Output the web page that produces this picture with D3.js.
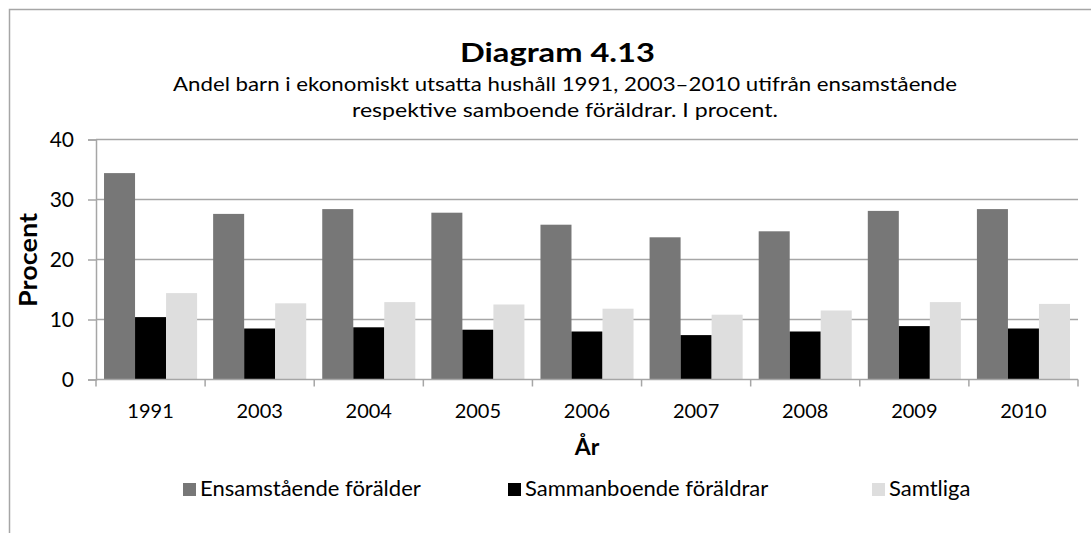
<!DOCTYPE html>
<html>
<head>
<meta charset="utf-8">
<script src="https://cdn.jsdelivr.net/npm/d3@7/dist/d3.min.js"></script>
<style>
  html, body { margin: 0; padding: 0; background: #fff; }
  svg { display: block; }
  text { font-family: Lato, "Open Sans", sans-serif; fill: #000; }
</style>
</head>
<body>
<svg id="chart" width="1091" height="533"></svg>
<script>
const years = ["1991", "2003", "2004", "2005", "2006", "2007", "2008", "2009", "2010"];
const seriesNames = ["Ensamstående förälder", "Sammanboende föräldrar", "Samtliga"];
const ensamstaende = [34.4, 27.6, 28.4, 27.8, 25.8, 23.7, 24.7, 28.1, 28.4];
const sammanboende = [10.4, 8.5, 8.7, 8.3, 8.0, 7.4, 8.0, 8.9, 8.5];
const samtliga = [14.4, 12.7, 12.9, 12.5, 11.8, 10.8, 11.5, 12.9, 12.6];
const yTicks = [0, 10, 20, 30, 40];
const colors = ["#777777", "#000000", "#dedede"];
const titleText = "Diagram 4.13";
const subtitleLines = [
  "Andel barn i ekonomiskt utsatta hushåll 1991, 2003–2010 utifrån ensamstående",
  "respektive samboende föräldrar. I procent."
];
const yLabel = "Procent";
const xLabel = "År";

const seriesData = [ensamstaende, sammanboende, samtliga];

const svg = d3.select("#chart");
const W = 1091, H = 533;
const plot = { left: 96, right: 1078, top: 139.5, bottom: 379.5 };

// outer frame
svg.append("rect")
  .attr("x", 9.5).attr("y", 9.5)
  .attr("width", W + 20).attr("height", H + 20)
  .attr("fill", "none").attr("stroke", "#a6a6a6").attr("stroke-width", 1.5);

const x = d3.scaleBand().domain(years).range([plot.left, plot.right]).paddingInner(0.147).paddingOuter(0.0735);
const xCat = d3.scaleBand().domain(years).range([plot.left, plot.right]);
const xs = d3.scaleBand().domain(d3.range(seriesNames.length)).range([0, x.bandwidth()]);
const y = d3.scaleLinear().domain([0, 40]).range([plot.bottom, plot.top]);

// gridlines
svg.append("g").selectAll("line").data(yTicks.filter(d => d > 0)).join("line")
  .attr("x1", plot.left).attr("x2", plot.right)
  .attr("y1", d => y(d)).attr("y2", d => y(d))
  .attr("stroke", "#a6a6a6").attr("stroke-width", 1.5);

// bars
seriesData.forEach((vals, si) => {
  svg.append("g").selectAll("rect").data(vals).join("rect")
    .attr("x", (d, i) => x(years[i]) + xs(si))
    .attr("y", d => y(d))
    .attr("width", xs.bandwidth())
    .attr("height", d => y(0) - y(d))
    .attr("fill", colors[si]);
});

// y axis
const yAxis = svg.append("g").attr("transform", `translate(${plot.left},0)`)
  .call(d3.axisLeft(y).tickValues(yTicks).tickSize(8).tickPadding(14));
yAxis.select(".domain").attr("stroke", "#a6a6a6").attr("stroke-width", 1.5);
yAxis.selectAll(".tick line").attr("stroke", "#a6a6a6").attr("stroke-width", 1.5);
yAxis.selectAll(".tick text").attr("font-size", 21).attr("font-family", "Lato").attr("fill", "#000");

// x axis line + ticks at category boundaries
const boundaries = years.map(d => xCat(d)).concat([plot.right]);
svg.append("line").attr("x1", plot.left).attr("x2", plot.right)
  .attr("y1", plot.bottom).attr("y2", plot.bottom)
  .attr("stroke", "#a6a6a6").attr("stroke-width", 1.5);
svg.append("g").selectAll("line").data(boundaries).join("line")
  .attr("x1", d => d).attr("x2", d => d)
  .attr("y1", plot.bottom).attr("y2", plot.bottom + 7)
  .attr("stroke", "#a6a6a6").attr("stroke-width", 1.5);
svg.append("g").selectAll("text").data(years).join("text")
  .attr("x", d => xCat(d) + xCat.bandwidth() / 2)
  .attr("y", 418)
  .attr("text-anchor", "middle")
  .attr("font-size", 20)
  .text(d => d);

// titles
svg.append("text").attr("x", 460).attr("y", 62)
  .attr("font-size", 27).attr("font-weight", "bold")
  .attr("textLength", 195).attr("lengthAdjust", "spacingAndGlyphs").text(titleText);
const subX = [173, 352], subW = [784, 426];
subtitleLines.forEach((t, i) => {
  svg.append("text").attr("x", subX[i]).attr("y", 91 + i * 26)
    .attr("font-size", 20)
    .attr("textLength", subW[i]).attr("lengthAdjust", "spacingAndGlyphs").text(t);
});

// axis titles
svg.append("text").attr("transform", `translate(37,307) rotate(-90)`)
  .attr("font-size", 24).attr("font-weight", "bold")
  .attr("textLength", 94).attr("lengthAdjust", "spacingAndGlyphs").text(yLabel);
svg.append("text").attr("x", 587).attr("y", 455).attr("text-anchor", "middle")
  .attr("font-size", 23).attr("font-weight", "bold").text(xLabel);

// legend
const legendX = [183, 508, 872];
const lg = svg.append("g").selectAll("g").data(seriesNames).join("g")
  .attr("transform", (d, i) => `translate(${legendX[i]},483)`);
lg.append("rect").attr("width", 13).attr("height", 13).attr("fill", (d, i) => colors[i]);
lg.append("text").attr("x", 17).attr("y", 13).attr("font-size", 22).text(d => d);
</script>
</body>
</html>
